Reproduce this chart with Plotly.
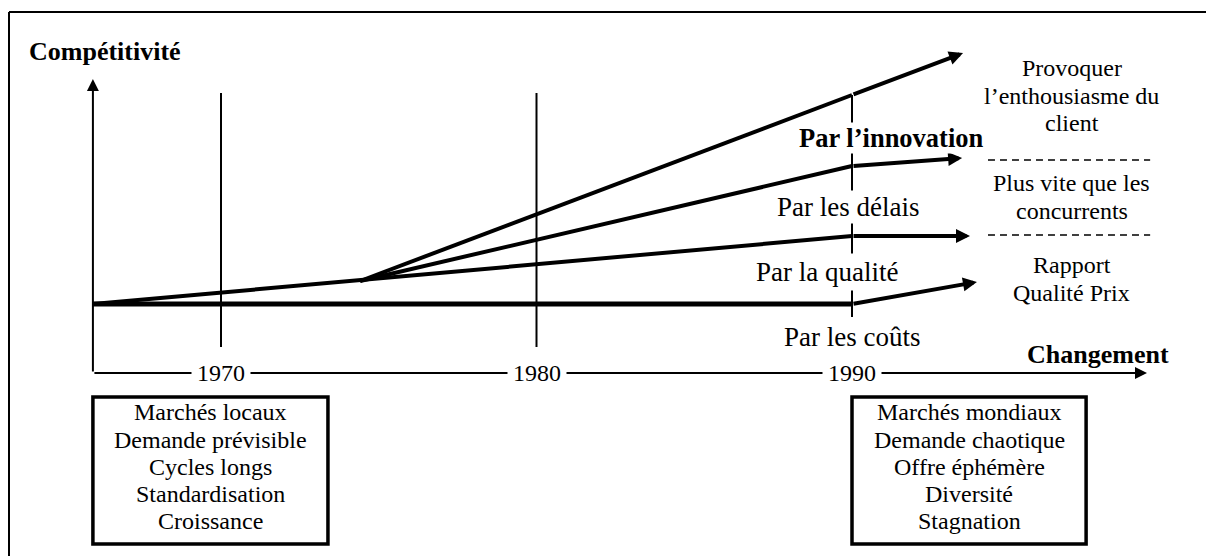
import plotly.graph_objects as go

# ---------------- data ----------------
years = [1970, 1980, 1990]
year_labels = ["1970", "1980", "1990"]
origin_year = 1965.94
axis_end_year = 1999.35
axis_level = -6.9
y_axis_top = 22.5

# strategy paths (year, competitiveness index) and arrow tips
cost_x = [1965.94, 1990.0]
cost_y = [0.0, 0.0]
cost_tip = [1993.96, 2.2]

quality_x = [1965.94, 1990.0]
quality_y = [0.0, 6.8]
quality_tip = [1993.74, 6.8]

delais_x = [1974.41, 1990.0]
delais_y = [2.3, 13.8]
delais_tip = [1993.49, 14.6]

innov_x = [1974.41, 1990.0]
innov_y = [2.3, 20.9]
innov_tip = [1993.52, 25.1]

strategy_labels = ["Par l’innovation", "Par les délais", "Par la qualité", "Par les coûts"]
outcome_lines = [["Provoquer", "l’enthousiasme du", "client"],
                 ["Plus vite que les", "concurrents"],
                 ["Rapport", "Qualité Prix"]]
box_1970 = ["Marchés locaux", "Demande prévisible", "Cycles longs", "Standardisation", "Croissance"]
box_1990 = ["Marchés mondiaux", "Demande chaotique", "Offre éphémère", "Diversité", "Stagnation"]

# ---------------- figure ----------------
FONT = "Liberation Serif"
FS = 24
FS_BIG = 27
fig = go.Figure()

def seg(xs, ys, w, dash="solid"):
    fig.add_trace(go.Scatter(x=xs, y=ys, mode="lines",
                             line=dict(color="black", width=w, dash=dash),
                             hoverinfo="skip", showlegend=False))

annotations = []

def arrow(x0, y0, x1, y1, w, size):
    annotations.append(dict(x=x1, y=y1, ax=x0, ay=y0, xref="x", yref="y",
                            axref="x", ayref="y", text="", showarrow=True,
                            arrowhead=2, arrowsize=size, arrowwidth=w,
                            arrowcolor="black", standoff=0, startstandoff=0))

def label(x, y, t, bold=False, bg=None, xanchor="center", pad=1, size=FS):
    d = dict(x=x, y=y, xref="x", yref="y", text=("<b>%s</b>" % t) if bold else t,
             showarrow=False, xanchor=xanchor, yanchor="middle",
             font=dict(family=FONT, size=size, color="black"), borderpad=pad)
    if bg:
        d["bgcolor"] = bg
    annotations.append(d)

# vertical year lines
seg([years[0], years[0]], [21.1, -4.3], 2)
seg([years[1], years[1]], [21.1, -4.3], 2)
seg([years[2], years[2]], [20.9, -1.3], 2)

# strategy lines
seg(cost_x, cost_y, 5)
seg(quality_x, quality_y, 4)
seg(delais_x, delais_y, 4)
seg(innov_x, innov_y, 4)

arrow(cost_x[-1], cost_y[-1], cost_tip[0], cost_tip[1], 4, 0.7)
arrow(quality_x[-1], quality_y[-1], quality_tip[0], quality_tip[1], 4, 0.7)
arrow(delais_x[-1], delais_y[-1], delais_tip[0], delais_tip[1], 4, 0.7)
arrow(innov_x[-1], innov_y[-1], innov_tip[0], innov_tip[1], 4, 0.7)

# axes
arrow(origin_year, axis_level, origin_year, y_axis_top, 2, 1.2)
arrow(origin_year, axis_level, axis_end_year, axis_level, 2, 1.2)

# year labels on x axis
for yv, yl in zip(years, year_labels):
    label(yv, axis_level, yl, bg="white", pad=5)

# strategy labels
label(1991.24, 16.6, strategy_labels[0], bold=True, bg="white", pad=0, size=26.5)
label(1989.87, 9.7, strategy_labels[1], bg="white", pad=1, size=FS_BIG)
label(1989.21, 3.2, strategy_labels[2], bg="white", pad=3, size=FS_BIG)
label(1990.0, -3.3, strategy_labels[3], bg="white", pad=1, size=FS_BIG)

# axis titles
label(1963.86, 25.3, "Compétitivité", bold=True, xanchor="left", size=26)
label(2000.12, -5.0, "Changement", bold=True, xanchor="right", size=26)

# outcome texts
out_y = [[23.6, 20.8, 18.1], [12.1, 9.3], [3.9, 1.1]]
for grp, ys in zip(outcome_lines, out_y):
    for t, yv in zip(grp, ys):
        label(1996.97, yv, t)

# dashed separators
for yv in [14.4, 6.9]:
    seg([1994.31, 1999.45], [yv, yv], 1.5, dash="7px,5px")

# boxes
box_y = [-10.8, -13.6, -16.3, -19.0, -21.7]
for t, yv in zip(box_1970, box_y):
    label(1969.68, yv, t)
for t, yv in zip(box_1990, box_y):
    label(1993.71, yv, t)

W, H = 1214, 556
OFF = 8  # page body margin in the browser
shapes = [
    dict(type="rect", xref="x", yref="y", x0=1965.94, x1=1973.39, y0=-9.3, y1=-24.0,
         line=dict(color="black", width=3.5)),
    dict(type="rect", xref="x", yref="y", x0=1990.0, x1=1997.42, y0=-9.3, y1=-24.0,
         line=dict(color="black", width=3.5)),
    # outer frame (top and left edges)
    dict(type="line", xref="paper", yref="paper", x0=1 / W, x1=1.0, y0=1 - 4 / H, y1=1 - 4 / H,
         line=dict(color="black", width=2)),
    dict(type="line", xref="paper", yref="paper", x0=1 / W, x1=1 / W, y0=1 - 4 / H, y1=0,
         line=dict(color="black", width=2)),
]

px_per_year = 31.55
x0 = 1970 - (221 - OFF) / px_per_year
x1 = x0 + W / px_per_year
ytop = (304 - OFF) / 10
fig.update_layout(
    width=W, height=H,
    margin=dict(l=0, r=0, t=0, b=0),
    paper_bgcolor="white", plot_bgcolor="white",
    xaxis=dict(range=[x0, x1], visible=False, fixedrange=True),
    yaxis=dict(range=[ytop - H / 10, ytop], visible=False, fixedrange=True),
    annotations=annotations, shapes=shapes, showlegend=False,
)

fig.write_html("out.html")
